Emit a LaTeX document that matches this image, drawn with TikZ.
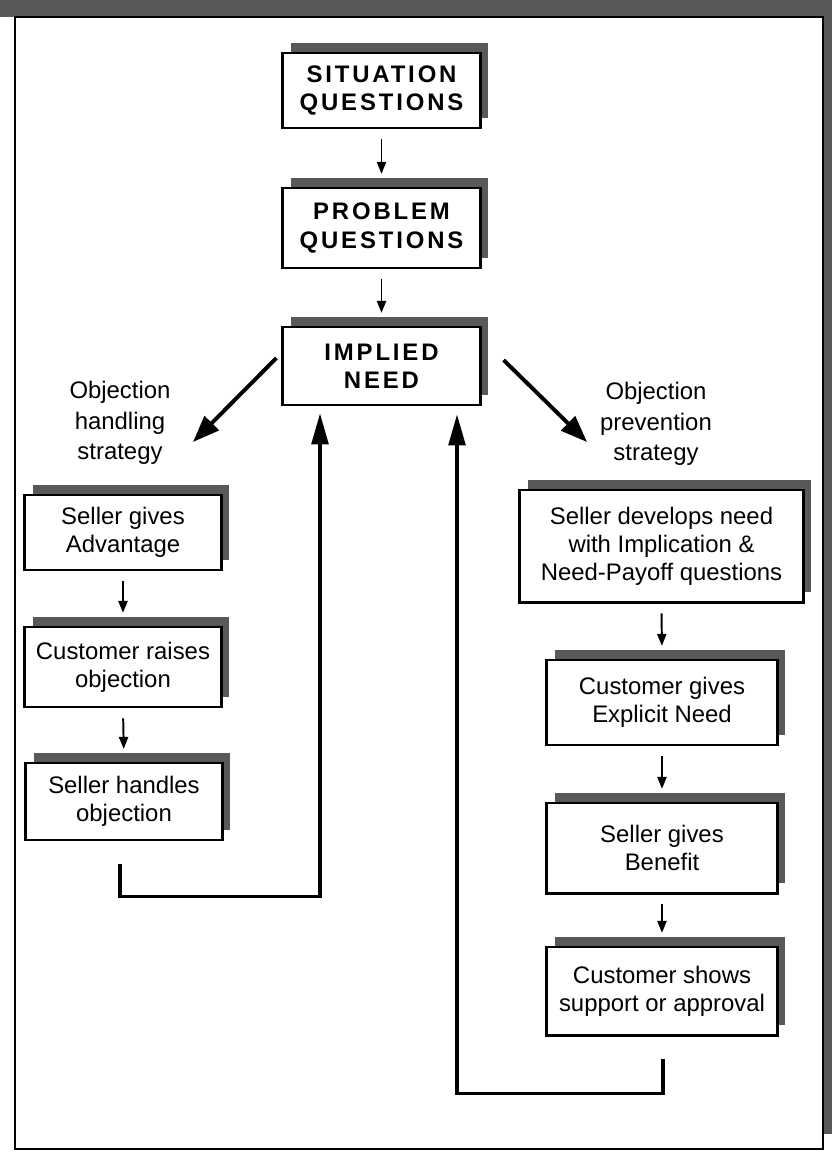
\documentclass[tikz,border=0pt]{standalone}
\usepackage{fontspec}
\setmainfont{Liberation Sans}
\newfontfamily\headfont[LetterSpace=12]{Liberation Sans}
\usetikzlibrary{arrows.meta,shadows,calc}
\tikzset{
  stepbox/.style={draw,line width=2.1pt,fill=white,align=center,inner sep=0pt,
    font=\fontsize{17}{20}\selectfont,
    general shadow={fill=black!65,shadow xshift=5.7pt,shadow yshift=7.1pt}},
  headbox/.style={stepbox,minimum width=4.93cm,
    font=\headfont\bfseries\fontsize{17}{20}\selectfont},
  note/.style={align=center,font=\fontsize{17}{21.5}\selectfont},
  flow/.style={line width=1.4pt,-{Triangle[length=8.5pt,width=6.5pt]},
    shorten <=7pt,shorten >=9pt},
  branch/.style={line width=2.8pt,-{Triangle[length=19pt,width=14pt]}},
  back/.style={line width=2.2pt,-{Triangle[length=22pt,width=12pt]}}
}
\begin{document}
\begin{tikzpicture}[x=0.025cm,y=-0.025cm]
\useasboundingbox (0,0) rectangle (832,1152);
% outer frame with its shadow (top and right only)
\fill[black!65] (0,0) rectangle (832,17);
\fill[black!65] (823,0) rectangle (832,1134);
\draw[line width=2pt,fill=white] (15,17) rectangle (823,1149);

% main line
\node[headbox,minimum height=1.875cm] (sit) at (381.5,90.5) {SITUATION\\QUESTIONS};
\node[headbox,minimum height=2cm] (prob) at (381.5,228) {PROBLEM\\QUESTIONS};
\node[headbox,minimum height=1.95cm] (impl) at (381.5,366) {IMPLIED\\NEED};

% left: handling
\node[note] (lhand) at (120,423) {Objection\\handling\\strategy};
\node[stepbox,minimum width=4.9cm,minimum height=1.875cm] (adv) at (123,532.5) {Seller gives\\Advantage};
\node[stepbox,minimum width=4.9cm,minimum height=2cm] (raise) at (123,667) {Customer raises\\objection};
\node[stepbox,minimum width=4.9cm,minimum height=1.925cm] (handle) at (124,801.5) {Seller handles\\objection};

% right: prevention
\node[note] (rprev) at (656,424) {Objection\\prevention\\strategy};
\node[stepbox,minimum width=7.075cm,minimum height=2.8cm] (dev) at (661.5,546) {Seller develops need\\with Implication \&\\Need-Payoff questions};
\node[stepbox,minimum width=5.75cm,minimum height=2.125cm] (expl) at (662,702.5) {Customer gives\\Explicit Need};
\node[stepbox,minimum width=5.75cm,minimum height=2.25cm] (ben) at (662,848) {Seller gives\\Benefit};
\node[stepbox,minimum width=5.75cm,minimum height=2.2cm] (supp) at (662,991) {Customer shows\\support or approval};

\foreach \a/\b in {sit/prob,prob/impl,adv/raise,raise/handle,dev/expl,expl/ben,ben/supp}
  \draw[flow] (\a.south) -- (\b.north);

% branches
\coordinate (ltip) at (193,442);
\coordinate (rtip) at (587,442);
\draw[branch] ($(impl.west)+(-5,-8)$) -- (ltip);
\draw[branch] ($(impl.east)+(22,-6)$) -- (rtip);

% loops back to the implied need
\coordinate (lin) at ($(impl.south)+(-61.5,7)$);
\coordinate (rin) at ($(impl.south)+(75.5,8)$);
\draw[back] ($(handle.south)+(-4,23)$) -- ++(0,32) -| (lin);
\draw[back] ($(supp.south)+(1,22)$) -- ++(0,35) -| (rin);
\end{tikzpicture}
\end{document}
